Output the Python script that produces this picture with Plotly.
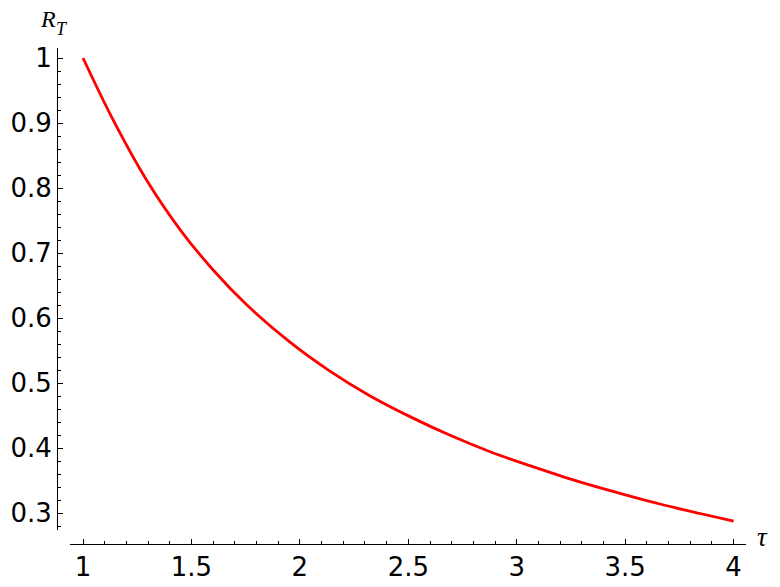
import plotly.graph_objects as go

# Data
tau = [1.0, 1.14, 1.29, 1.45, 1.60, 1.75, 1.95, 2.14, 2.32, 2.51, 2.69, 2.88,
       3.06, 3.29, 3.48, 3.66, 3.85, 4.0]
R_T = [1.000, 0.904, 0.814, 0.735, 0.674, 0.622, 0.564, 0.518, 0.481, 0.448,
       0.420, 0.394, 0.373, 0.348, 0.330, 0.314, 0.299, 0.2875]

x_ticks = [1, 1.5, 2, 2.5, 3, 3.5, 4]
x_labels = ["1", "1.5", "2", "2.5", "3", "3.5", "4"]
y_ticks = [0.3, 0.4, 0.5, 0.6, 0.7, 0.8, 0.9, 1.0]
y_labels = ["0.3", "0.4", "0.5", "0.6", "0.7", "0.8", "0.9", "1"]

W, H = 780, 587
ML, MR, MT, MB = 57, 34, 48, 43
PW, PH = W - ML - MR, H - MT - MB

def px_x(p):
    return (p - ML) / PW

def px_y(p):
    return (H - MB - p) / PH

fig = go.Figure()
fig.add_trace(go.Scatter(
    x=tau, y=R_T, mode="lines",
    line=dict(color="#ff0000", width=2.8, shape="spline", smoothing=1.0),
    hoverinfo="skip", showlegend=False,
))

tickfont = dict(family="DejaVu Sans", size=26, color="black")

fig.update_layout(
    width=W, height=H,
    margin=dict(l=ML, r=MR, t=MT, b=MB, pad=0, autoexpand=False),
    paper_bgcolor="white", plot_bgcolor="white",
    showlegend=False,
    xaxis=dict(
        domain=[px_x(70), 1], anchor="free", position=0,
        range=[0.94, 4.057], automargin=False,
        tickvals=x_ticks, ticktext=x_labels,
        ticks="inside", ticklen=5, tickwidth=1, tickcolor="black",
        minor=dict(dtick=0.1, tick0=1, ticks="inside", ticklen=3,
                   tickwidth=1, tickcolor="black", showgrid=False),
        showline=True, linecolor="black", linewidth=1,
        showgrid=False, zeroline=False,
        tickfont=tickfont,
    ),
    yaxis=dict(
        domain=[px_y(530), 1], anchor="free", position=0,
        range=[0.274, 1.0154], automargin=False,
        tickvals=y_ticks, ticktext=y_labels,
        ticks="inside", ticklen=5, tickwidth=1, tickcolor="black",
        minor=dict(dtick=0.02, tick0=0.3, ticks="inside", ticklen=3,
                   tickwidth=1, tickcolor="black", showgrid=False),
        showline=True, linecolor="black", linewidth=1,
        showgrid=False, zeroline=False,
        tickfont=tickfont,
    ),
    annotations=[
        dict(text="<i>R</i>", xref="paper", yref="paper",
             x=px_x(38), y=px_y(19), xanchor="left", yanchor="middle",
             showarrow=False,
             font=dict(family="Liberation Serif", size=24, color="black")),
        dict(text="<i>T</i>", xref="paper", yref="paper",
             x=px_x(54), y=px_y(29), xanchor="left", yanchor="middle",
             showarrow=False,
             font=dict(family="Liberation Serif", size=18, color="black")),
        dict(text="<i>τ</i>", xref="paper", yref="paper",
             x=px_x(755), y=px_y(537), xanchor="left", yanchor="middle",
             showarrow=False,
             font=dict(family="Liberation Serif", size=27, color="black")),
    ],
)

fig.write_html(
    "out.html",
    config={"displayModeBar": False},
    post_script="document.body.style.margin='0';document.body.style.overflow='hidden';",
)
